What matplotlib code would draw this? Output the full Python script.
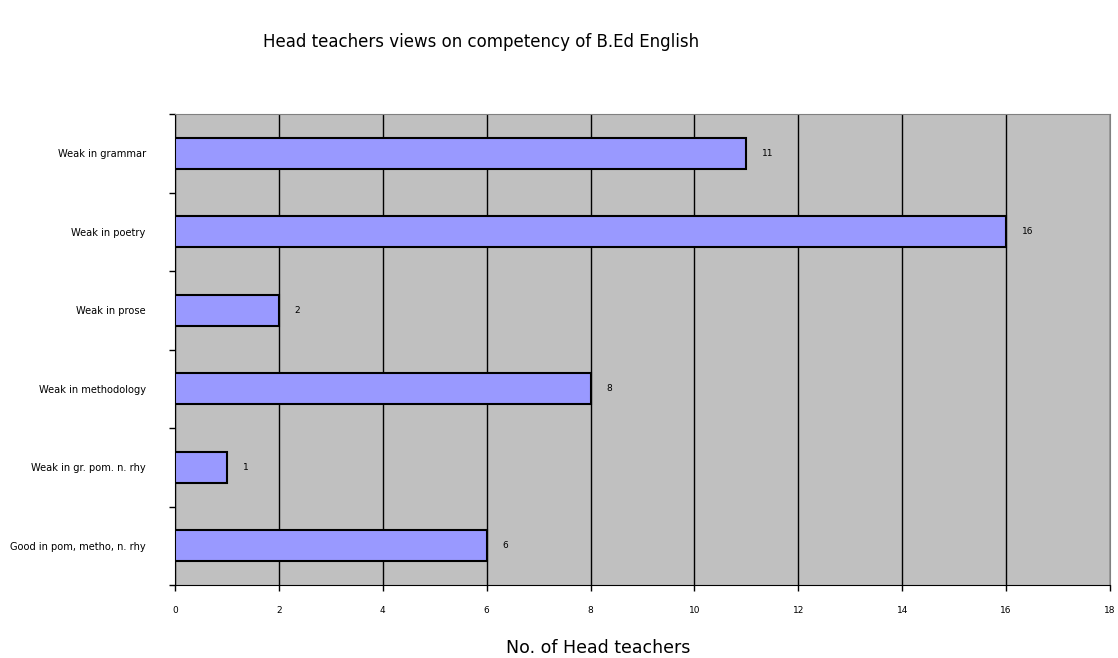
import numpy as np
import matplotlib.pyplot as plt

categories = ["Weak in grammar", "Weak in poetry", "Weak in prose",
              "Weak in methodology", "Weak in gr. pom. n. rhy",
              "Good in pom, metho, n. rhy"]
counts = [11, 16, 2, 8, 1, 6]
x_ticks = [0, 2, 4, 6, 8, 10, 12, 14, 16, 18]

fig = plt.figure(figsize=(11.18, 6.58), dpi=100)
ax = fig.add_axes([175 / 1118, 73 / 658, 935 / 1118, 471 / 658])
ax.set_facecolor("#c0c0c0")

y = np.arange(len(categories))
ax.barh(y, counts, height=0.39, color="#9999ff", edgecolor="#000000",
        linewidth=1.5, zorder=3)

for yi, v in zip(y, counts):
    ax.text(v + 0.3, yi, str(v), va="center", ha="left", fontsize=6.5, zorder=4)

ax.set_xlim(0, 18)
ax.set_ylim(len(categories) - 0.5, -0.5)
ax.set_xticks(x_ticks)
ax.set_xticklabels([str(t) for t in x_ticks], fontsize=6.5)
ax.xaxis.grid(True, color="#000000", linewidth=1.0, zorder=1)
ax.set_axisbelow(True)

# category labels at bar centres, ticks between categories
ax.set_yticks(y)
ax.set_yticklabels(categories, fontsize=7.1)
ax.set_yticks(np.arange(len(categories) + 1) - 0.5, minor=True)
ax.tick_params(axis="y", which="major", length=0, pad=21)
ax.tick_params(axis="y", which="minor", length=4, width=1)
ax.tick_params(axis="x", length=4, width=1, pad=11)

ax.spines["left"].set_color("#000000")
ax.spines["bottom"].set_color("#000000")
ax.spines["right"].set_color("#808080")
ax.spines["top"].set_color("#808080")
ax.spines["top"].set_linestyle((0, (2, 1)))

fig.text(481 / 1118, 1 - 42 / 658, "Head teachers views on competency of B.Ed English",
         ha="center", va="center", fontsize=12, fontfamily="DejaVu Sans")
fig.text(598 / 1118, 1 - 648 / 658, "No. of Head teachers",
         ha="center", va="center", fontsize=12.5, fontfamily="DejaVu Sans")

fig.savefig("out.png", dpi=100)
